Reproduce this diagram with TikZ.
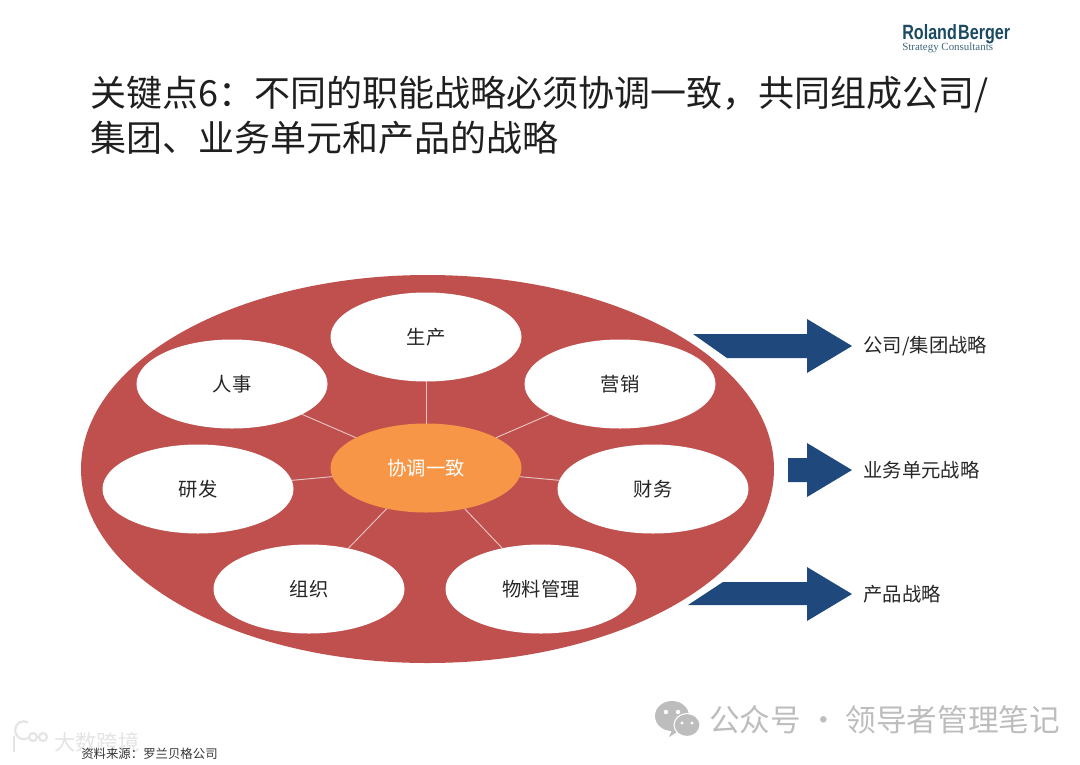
\documentclass[tikz,border=0pt]{standalone}
\usepackage{fontspec}
\setmainfont{Noto Sans CJK SC}
\newfontfamily\logofont[FakeStretch=0.78]{Liberation Sans Bold}
\newfontfamily\logoserif{Liberation Serif}
\usetikzlibrary{positioning,shapes.geometric}
\definecolor{discred}{HTML}{C0504D}
\definecolor{huborange}{HTML}{F79646}
\definecolor{arrowblue}{HTML}{1F497D}
\definecolor{spoke}{HTML}{E6C4C2}
\definecolor{logoteal}{HTML}{1B4A63}
\definecolor{markgray}{HTML}{BDBDBD}
\definecolor{markpale}{HTML}{E4E4E4}

\begin{document}
\begin{tikzpicture}[
			x=0.75pt,y=-0.75pt,
			disc/.style={draw=none,fill=discred,ellipse,minimum width=519.75pt,minimum height=291pt,inner sep=0pt,outer sep=0pt},
			func/.style={fill=white,ellipse,minimum width=143.25pt,minimum height=66.75pt,inner sep=0pt,outer sep=0pt,font=\fontsize{14.5}{16}\selectfont,text=black!85},
			hubnode/.style={fill=huborange,ellipse,minimum width=143.25pt,minimum height=66.75pt,inner sep=0pt,outer sep=0pt,font=\fontsize{14.5}{16}\selectfont,text=white},
			link/.style={draw=spoke,line width=0.7pt},
			bigarrow/.style={fill=arrowblue,draw=none},
			outlabel/.style={font=\fontsize{14.5}{16}\selectfont,text=black!85,inner sep=0pt,right=8.5pt of #1},
			markicon/.style={draw=markpale,line width=1.6pt,fill=none}
			]
			\useasboundingbox (0,0) rectangle (1080,764);
			\node[anchor=north west,align=left,inner sep=0pt,font=\fontsize{27}{33.75}\selectfont,text=black!88] (title) at (90,76) {关键点6：不同的职能战略必须协调一致，共同组成公司/\\集团、业务单元和产品的战略};
			\node[anchor=west,inner sep=0pt,font=\logofont\fontsize{15.5}{16}\selectfont,text=logoteal] (logo) at (902,34) {Roland\kern1pt Berger};
			\node[anchor=north west,inner sep=0pt,font=\logoserif\fontsize{8.2}{9}\selectfont,text=logoteal!85] (logosub) at (902,43) {Strategy Consultants};
			\node[disc] (disc) at (427.5,469) {};
			\node[hubnode] (hub) at (426,468) {协调一致};
			\node[func] (sc) [above=31.5pt of hub] {生产};
			\node[func] (rs) [left=2.25pt of sc,yshift=-35.25pt] {人事};
			\node[func] (yx) [right=2.25pt of sc,yshift=-35.25pt] {营销};
			\node[func] (yf) [left=27.75pt of hub,yshift=-15.75pt] {研发};
			\node[func] (cw) [right=27pt of hub,yshift=-15.75pt] {财务};
			\node[func] (zz) [below=24pt of hub,xshift=-87.75pt] {组织};
			\node[func] (wl) [below=24pt of hub,xshift=86.25pt] {物料管理};
			\draw[link] (hub) -- (sc);
			\draw[link] (hub) -- (rs);
			\draw[link] (hub) -- (yx);
			\draw[link] (hub) -- (yf);
			\draw[link] (hub) -- (cw);
			\draw[link] (hub) -- (zz);
			\draw[link] (hub) -- (wl);
			\coordinate (tipa) at (852,346);
			\coordinate (tipb) at (852,470);
			\coordinate (tipc) at (852,594);
			\fill[bigarrow] (693,334) -- (807,334) -- (807,319) -- (tipa) -- (807,373) -- (807,358) -- (727,358) -- cycle;
			\fill[bigarrow] (788,458) -- (807,458) -- (807,443) -- (tipb) -- (807,497) -- (807,482) -- (788,482) -- cycle;
			\fill[bigarrow] (723,582) -- (807,582) -- (807,567) -- (tipc) -- (807,621) -- (807,605) -- (688,605) -- cycle;
			\node[outlabel=tipa] (la) {公司/集团战略};
			\node[outlabel=tipb] (lb) {业务单元战略};
			\node[outlabel=tipc] (lc) {产品战略};
			\fill[markgray] (672,716) ellipse (17 and 15);
			\fill[markgray] (673,728) -- (669,737) -- (682,729) -- cycle;
			\fill[markgray,draw=white,line width=0.8pt] (687,725) ellipse (13 and 11.5);
			\fill[white] (666,712) circle (2.2) (678,712) circle (2.2) (682,723) circle (1.7) (692,723) circle (1.7);
			\node[anchor=west,inner sep=0pt,font=\fontsize{23}{25}\selectfont,text=markgray] (mark) at (709,720) {公众号 · 领导者管理笔记};
			\draw[markicon] (14,736) -- (14,752);
			\draw[markicon] (28,738) arc (60:300:8.5 and 9);
			\draw[markicon] (33,737) circle (4) (43,737) circle (4);
			\node[anchor=west,inner sep=0pt,font=\fontsize{16}{18}\selectfont,text=markpale] (mark2) at (54,742) {大数跨境};
			\node[anchor=west,inner sep=0pt,font=\fontsize{9.3}{11}\selectfont,text=black!80] (source) at (81,754) {资料来源：罗兰贝格公司};
		\end{tikzpicture}
\end{document}
